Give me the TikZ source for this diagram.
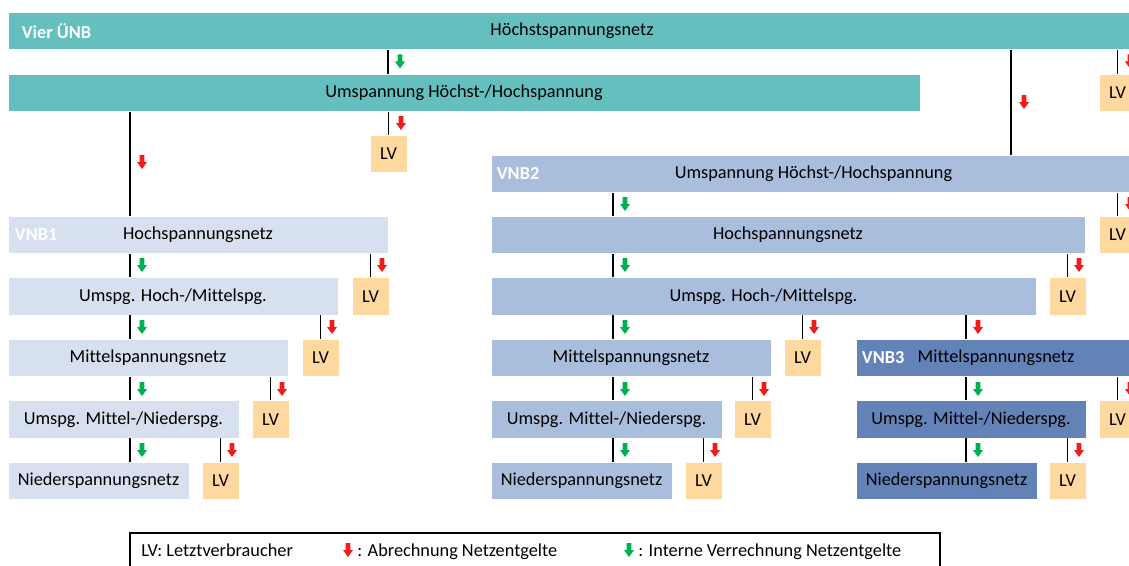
\documentclass[tikz,border=0pt]{standalone}
\usepackage{fontspec}
\setmainfont{Carlito}[Ligatures=NoCommon]
\usepackage{tikz}

\definecolor{uenb}{HTML}{64BFBE}
\definecolor{vnbeins}{HTML}{D6E0EE}
\definecolor{vnbzwei}{HTML}{A9BEDC}
\definecolor{vnbdrei}{HTML}{6383B8}
\definecolor{lvfarbe}{HTML}{FFD89F}
\definecolor{abr}{HTML}{F21B1B}
\definecolor{intern}{HTML}{00B050}

\tikzset{
  netz/.style={inner sep=0pt, minimum height=0.9375cm, draw=white, line width=0.4pt,
    font=\fontsize{13}{15}\selectfont},
  lv/.style={netz, fill=lvfarbe, minimum width=0.925cm},
  tag/.style={anchor=west, text=white, font=\fontsize{13}{15}\selectfont\bfseries, inner sep=0pt},
  legtext/.style={anchor=base west, inner sep=0pt, font=\fontsize{13}{15}\selectfont},
  verb/.style={line width=1.3pt},
  pfeil/.pic={\fill (-2.3,-7) -- (2.3,-7) -- (2.3,0) -- (5,0) -- (0,7) -- (-5,0) -- (-2.3,0) -- cycle;}
}

\begin{document}
\begin{tikzpicture}[x=0.025cm,y=-0.025cm]
\clip (0,0) rectangle (1129,565);
\fill[white] (0,0) rectangle (1129,565);

% Uebertragungsnetzbetreiber
\node[netz, fill=uenb, minimum width=28.2cm] (hsn) at (572,30.75) {H\"ochstspannungsnetz};
\node[tag] (t0) at ([xshift=0.35cm]hsn.west) {Vier \"UNB};
\node[netz, fill=uenb, minimum width=22.8cm] (uhh) at (464,92.75) {Umspannung H\"ochst-/Hochspannung};
\node[lv] (lv0) at (1117.5,92.75) {LV};
\node[lv] (lv1) at (388.5,153.75) {LV};

% VNB2
\node[netz, fill=vnbzwei, minimum width=16.125cm] (v2u) at (813.5,173.75) {Umspannung H\"ochst-/Hochspannung};
\node[tag] (t2) at ([xshift=0.15cm]v2u.west) {VNB2};
\node[lv] (lv2) at (1117.5,234.75) {LV};
\node[netz, fill=vnbzwei, minimum width=14.85cm] (v2h) at (788,234.75) {Hochspannungsnetz};
\node[netz, fill=vnbzwei, minimum width=13.625cm] (v2hm) at (763.5,296.25) {Umspg. Hoch-/Mittelspg.};
\node[lv] (lv2a) at (1067.5,296.25) {LV};
\node[netz, fill=vnbzwei, minimum width=7cm] (v2m) at (631,357.75) {Mittelspannungsnetz};
\node[lv] (lv2b) at (802.5,357.75) {LV};
\node[netz, fill=vnbzwei, minimum width=5.775cm] (v2mn) at (606.5,419.25) {Umspg. Mittel-/Niederspg.};
\node[lv] (lv2c) at (752.5,419.25) {LV};
\node[netz, fill=vnbzwei, minimum width=4.525cm] (v2n) at (581.5,480.75) {Niederspannungsnetz};
\node[lv] (lv2d) at (703.5,480.75) {LV};

% VNB1
\node[netz, fill=vnbeins, minimum width=9.5cm] (v1h) at (198,234.75) {Hochspannungsnetz};
\node[tag] (t1) at ([xshift=0.175cm]v1h.west) {VNB1};
\node[netz, fill=vnbeins, minimum width=8.25cm] (v1hm) at (173,296.25) {Umspg. Hoch-/Mittelspg.};
\node[lv] (lv1a) at (370.5,296.25) {LV};
\node[netz, fill=vnbeins, minimum width=7cm] (v1m) at (148,357.75) {Mittelspannungsnetz};
\node[lv] (lv1b) at (320.5,357.75) {LV};
\node[netz, fill=vnbeins, minimum width=5.775cm] (v1mn) at (123.5,419.25) {Umspg. Mittel-/Niederspg.};
\node[lv] (lv1c) at (270.5,419.25) {LV};
\node[netz, fill=vnbeins, minimum width=4.525cm] (v1n) at (98.5,480.75) {Niederspannungsnetz};
\node[lv] (lv1d) at (220.5,480.75) {LV};

% VNB3
\node[netz, fill=vnbdrei, minimum width=7cm] (v3m) at (996,357.75) {Mittelspannungsnetz};
\node[tag] (t3) at ([xshift=0.15cm]v3m.west) {VNB3};
\node[netz, fill=vnbdrei, minimum width=5.75cm] (v3mn) at (971,419.25) {Umspg. Mittel-/Niederspg.};
\node[lv] (lv3) at (1117.5,419.25) {LV};
\node[netz, fill=vnbdrei, minimum width=4.525cm] (v3n) at (946.5,480.75) {Niederspannungsnetz};
\node[lv] (lv3a) at (1067.5,480.75) {LV};

% Straenge
\coordinate (s0) at (388,0);
\coordinate (sr) at (1011,0);
\coordinate (s1) at (130,0);
\coordinate (s2) at (613,0);
\coordinate (s3) at (966,0);

\draw[verb] (hsn.south -| s0) -- (uhh.north -| s0);
\draw[verb] (hsn.south -| sr) -- (v2u.north -| sr);
\draw[verb] (hsn.south -| lv0) -- (lv0);
\draw[verb] (uhh.south -| s1) -- (v1h.north -| s1);
\draw[verb] (uhh.south -| lv1) -- (lv1);

\draw[verb] (v1h.south -| s1) -- (v1hm.north -| s1);
\draw[verb] (v1hm.south -| s1) -- (v1m.north -| s1);
\draw[verb] (v1m.south -| s1) -- (v1mn.north -| s1);
\draw[verb] (v1mn.south -| s1) -- (v1n.north -| s1);
\draw[verb] (v1h.south -| lv1a) -- (lv1a);
\draw[verb] (v1hm.south -| lv1b) -- (lv1b);
\draw[verb] (v1m.south -| lv1c) -- (lv1c);
\draw[verb] (v1mn.south -| lv1d) -- (lv1d);

\draw[verb] (v2u.south -| s2) -- (v2h.north -| s2);
\draw[verb] (v2h.south -| s2) -- (v2hm.north -| s2);
\draw[verb] (v2hm.south -| s2) -- (v2m.north -| s2);
\draw[verb] (v2m.south -| s2) -- (v2mn.north -| s2);
\draw[verb] (v2mn.south -| s2) -- (v2n.north -| s2);
\draw[verb] (v2u.south -| lv2) -- (lv2);
\draw[verb] (v2h.south -| lv2a) -- (lv2a);
\draw[verb] (v2hm.south -| lv2b) -- (lv2b);
\draw[verb] (v2m.south -| lv2c) -- (lv2c);
\draw[verb] (v2mn.south -| lv2d) -- (lv2d);

\draw[verb] (v2hm.south -| s3) -- (v3m.north -| s3);
\draw[verb] (v3m.south -| s3) -- (v3mn.north -| s3);
\draw[verb] (v3mn.south -| s3) -- (v3n.north -| s3);
\draw[verb] (v3m.south -| lv3) -- (lv3);
\draw[verb] (v3mn.south -| lv3a) -- (lv3a);

% Pfeile
\foreach \x/\y in {400/61.5, 142/265, 142/327, 142/389, 142/450,
  625/204, 625/265, 625/327, 625/389, 625/450, 978/389, 978/450}
  \pic[color=intern] at (\x,\y) {pfeil};
\foreach \x/\y in {1130/61.5, 1024/102, 142/162, 401/123, 1130/204,
  382/265, 332/327, 282/389, 232/450, 1079/265, 814/327, 764/389, 715/450,
  978/327, 1130/389, 1079/450}
  \pic[color=abr] at (\x,\y) {pfeil};

% Legende
\draw[line width=0.8pt] (130,533) rectangle (940,580);
\node[legtext] (leg1) at (141,556) {LV: Letztverbraucher};
\pic[color=abr] at (348,550) {pfeil};
\node[legtext] (leg2) at (357,556) {: Abrechnung Netzentgelte};
\pic[color=intern] at (629,550) {pfeil};
\node[legtext] (leg3) at (638,556) {: Interne Verrechnung Netzentgelte};
\end{tikzpicture}
\end{document}
